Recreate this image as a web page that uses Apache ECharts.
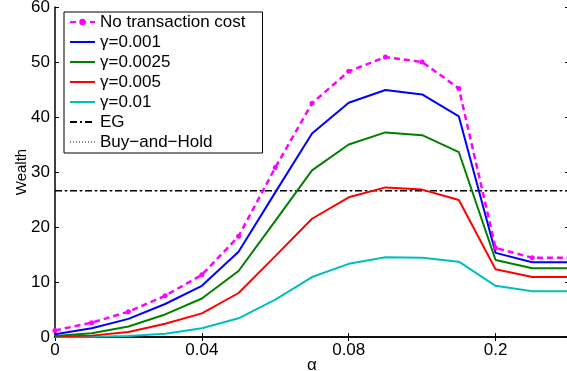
<!DOCTYPE html>
<html>
<head>
<meta charset="utf-8">
<script src="https://cdn.jsdelivr.net/npm/echarts@6/dist/echarts.min.js"></script>
<style>html,body{margin:0;padding:0;background:#fff}#c{width:567px;height:371px}</style>
</head>
<body>
<div id="c"></div>
<script>
const categories = ['0','0.01','0.02','0.03','0.04','0.05','0.06','0.07','0.08','0.09','0.1','0.11','0.2','0.3','0.4'];
const noCost   = [1.2, 2.6, 4.6, 7.5, 11.3, 18.3, 30.8, 42.5, 48.3, 50.9, 50.0, 45.2, 16.2, 14.4, 14.4];
const g0010    = [0.5, 1.6, 3.3, 6.0, 9.3, 15.5, 26.3, 37.0, 42.6, 44.9, 44.1, 40.1, 15.3, 13.6, 13.6];
const g0025    = [0.2, 0.7, 1.9, 4.1, 7.0, 12.0, 21.1, 30.3, 35.0, 37.2, 36.7, 33.6, 14.0, 12.5, 12.5];
const g0050    = [0.1, 0.25, 0.9, 2.4, 4.3, 8.0, 14.7, 21.5, 25.4, 27.2, 26.8, 24.9, 12.3, 10.9, 10.9];
const g0100    = [0.0, 0.05, 0.2, 0.6, 1.6, 3.4, 6.8, 10.9, 13.3, 14.5, 14.4, 13.7, 9.3, 8.3, 8.3];
const eg       = [26.6, 26.6, 26.6, 26.6, 26.6, 26.6, 26.6, 26.6, 26.6, 26.6, 26.6, 26.6, 26.6, 26.6, 26.6];
const buyHold  = [26.6, 26.6, 26.6, 26.6, 26.6, 26.6, 26.6, 26.6, 26.6, 26.6, 26.6, 26.6, 26.6, 26.6, 26.6];
const yTicks = {min: 0, max: 60, interval: 10};

const FONT = 'Liberation Sans';
const chart = echarts.init(document.getElementById('c'), null, {renderer: 'canvas'});
function line(name, data, color, extra) {
  return Object.assign({
    name, type: 'line', data, symbol: 'none', animation: false,
    lineStyle: {color, width: 2}, itemStyle: {color}, z: 3
  }, extra || {});
}
const noSym = {itemStyle: {opacity: 0}};
chart.setOption({
  animation: false,
  textStyle: {fontFamily: FONT},
  grid: {left: 55, right: -2, top: 7, bottom: 34, containLabel: false, outerBoundsMode: 'none'},
  legend: {
    orient: 'vertical', left: 64, top: 12,
    padding: [0, 17, 1, 5], itemGap: 0, itemWidth: 25, itemHeight: 8,
    backgroundColor: '#fff', borderColor: '#000', borderWidth: 1, borderRadius: 0,
    textStyle: {fontFamily: FONT, fontSize: 17, color: '#000', lineHeight: 20},
    data: [
      {name: 'No transaction cost'},
      Object.assign({name: 'γ=0.001'}, noSym),
      Object.assign({name: 'γ=0.0025'}, noSym),
      Object.assign({name: 'γ=0.005'}, noSym),
      Object.assign({name: 'γ=0.01'}, noSym),
      Object.assign({name: 'EG'}, noSym),
      Object.assign({name: 'Buy−and−Hold'}, noSym)
    ]
  },
  xAxis: [{
    type: 'category', data: categories, boundaryGap: false,
    name: 'α', nameLocation: 'middle', nameGap: 20, nameMoveOverlap: false,
    nameTextStyle: {fontFamily: FONT, fontSize: 17, color: '#000'},
    axisLine: {lineStyle: {color: '#000', width: 1.5}},
    axisTick: {inside: true, length: 4, interval: 3, lineStyle: {color: '#000'}},
    axisLabel: {interval: 3, fontSize: 17, color: '#000', margin: 5, fontFamily: FONT},
    splitLine: {show: false}
  }, {
    type: 'category', data: categories, boundaryGap: false, position: 'top',
    axisLine: {lineStyle: {color: '#000', width: 1.5}},
    axisTick: {inside: true, length: 4, interval: 3, lineStyle: {color: '#000'}},
    axisLabel: {show: false}, splitLine: {show: false}
  }],
  yAxis: [{
    type: 'value', min: yTicks.min, max: yTicks.max, interval: yTicks.interval,
    name: 'Wealth', nameLocation: 'middle', nameGap: 26, nameMoveOverlap: false,
    nameTextStyle: {fontFamily: FONT, fontSize: 15, color: '#000'},
    axisLine: {show: true, lineStyle: {color: '#000', width: 1.5}},
    axisTick: {show: true, inside: true, length: 4, lineStyle: {color: '#000'}},
    axisLabel: {fontSize: 17, color: '#000', margin: 5, fontFamily: FONT},
    splitLine: {show: false}
  }, {
    type: 'value', min: yTicks.min, max: yTicks.max, interval: yTicks.interval, position: 'right',
    axisLine: {show: true, lineStyle: {color: '#000', width: 1.5}},
    axisTick: {show: true, inside: true, length: 4, lineStyle: {color: '#000'}},
    axisLabel: {show: false}, splitLine: {show: false}
  }],
  series: [
    line('Buy−and−Hold', buyHold, '#888', {lineStyle: {color: '#888', width: 1, type: [1, 2]}, z: 2}),
    line('EG', eg, '#000', {lineStyle: {color: '#000', width: 1.5, type: [7, 3, 2, 3]}, z: 2}),
    line('γ=0.01', g0100, '#00bfbf'),
    line('γ=0.005', g0050, '#ff0000'),
    line('γ=0.0025', g0025, '#008000'),
    line('γ=0.001', g0010, '#0000ff'),
    line('No transaction cost', noCost, '#ff00ff', {
      symbol: 'circle', symbolSize: 5,
      lineStyle: {color: '#ff00ff', width: 2.5, type: [6, 4]}, z: 4
    })
  ]
});
</script>
</body>
</html>
